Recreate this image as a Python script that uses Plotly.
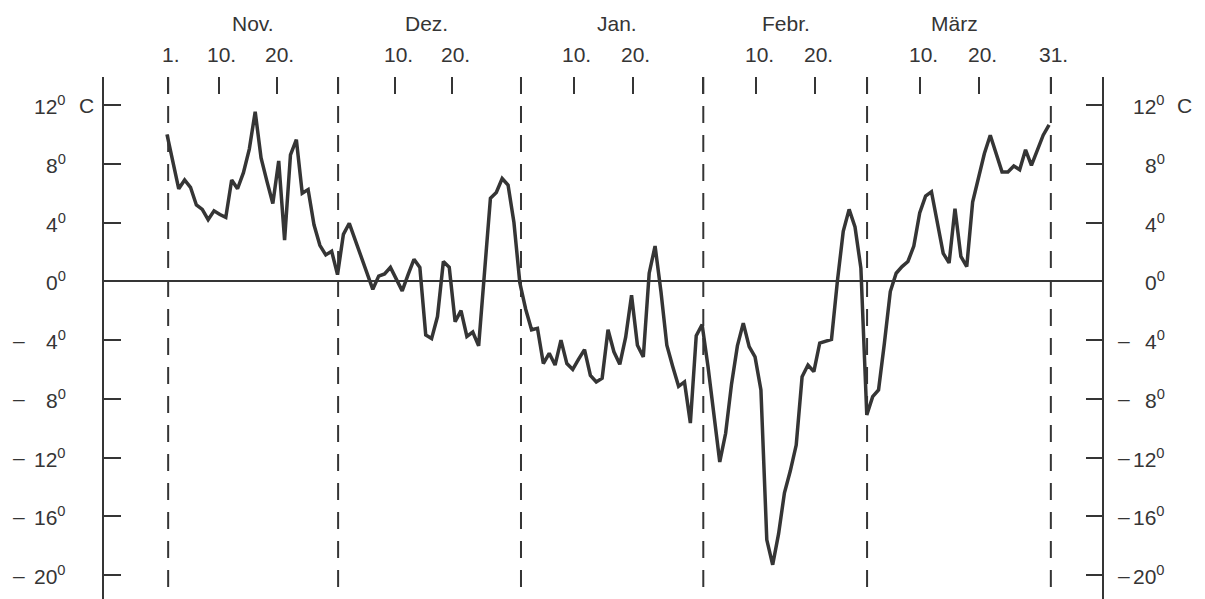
import plotly.graph_objects as go

# Daily mean temperature, 1 Nov .. 31 Mar (151 days), degrees C
temps = [
    # Nov
    10.0, 8.2, 6.3, 6.9, 6.4, 5.2, 4.9, 4.2, 4.8, 4.55,
    4.35, 6.9, 6.3, 7.4, 9.0, 11.55, 8.4, 6.8, 5.3, 8.2,
    2.8, 8.6, 9.65, 6.0, 6.25, 3.85, 2.45, 1.8, 2.05, 0.45,
    # Dec
    3.2, 3.95, 2.85, 1.7, 0.6, -0.55, 0.35, 0.5, 0.95, 0.2,
    -0.65, 0.45, 1.5, 0.95, -3.65, -3.9, -2.4, 1.35, 0.95, -2.75,
    -2.0, -3.75, -3.45, -4.4, 0.6, 5.65, 6.05, 7.0, 6.55, 4.0,
    -0.1,
    # Jan
    -1.9, -3.3, -3.2, -5.6, -4.9, -5.7, -4.0, -5.6, -6.0, -5.3,
    -4.65, -6.4, -6.85, -6.6, -3.3, -4.8, -5.65, -3.8, -0.95, -4.35,
    -5.15, 0.55, 2.4, -0.7, -4.35, -5.8, -7.15, -6.85, -9.65, -3.7,
    -2.95,
    # Feb
    -5.8, -8.9, -12.3, -10.35, -7.0, -4.4, -2.85, -4.45, -5.15, -7.4,
    -17.6, -19.3, -17.2, -14.4, -12.9, -11.15, -6.5, -5.7, -6.15, -4.2,
    -4.1, -3.95, 0.0, 3.4, 4.9, 3.7, 0.9, -9.1,
    # Mar
    -7.85, -7.4, -4.2, -0.7, 0.55, 1.0, 1.35, 2.4, 4.65, 5.8,
    6.1, 3.85, 1.9, 1.25, 4.95, 1.7, 1.0, 5.4, 7.0, 8.7,
    9.95, 8.7, 7.45, 7.45, 7.85, 7.6, 8.95, 7.9, 8.9, 9.95,
    10.65,
]
days = list(range(len(temps)))

# top axis: month names and day ticks (positions in days since 1 Nov, as drawn)
month_names = ["Nov.", "Dez.", "Jan.", "Febr.", "März"]
month_name_pos = [14.7, 44.1, 76.5, 105.3, 134.0]
month_line_pos = [0.2, 29.1, 60.2, 91.2, 119.05, 150.3]
day_tick_pos = [0.2, 8.84, 18.7, 29.1, 38.8, 48.5, 60.2, 69.2, 79.2,
                91.2, 100.2, 110.2, 119.05, 128.1, 138.1, 150.3]
day_tick_text = ["1.", "10.", "20.", "", "10.", "20.", "", "10.", "20.",
                 "", "10.", "20.", "", "10.", "20.", "31."]

# temperature axis
temp_ticks = [12, 8, 4, 0, -4, -8, -12, -16, -20]

INK = "#353535"
FONT = "Liberation Sans, Arial, Helvetica, sans-serif"
FS = 21

fig = go.Figure()
fig.add_trace(go.Scatter(
    x=days, y=temps, mode="lines",
    line=dict(color=INK, width=3.5, shape="linear"),
    hoverinfo="skip", showlegend=False,
))
# invisible trace so the right-hand temperature axis is drawn
fig.add_trace(go.Scatter(
    x=days, y=temps, mode="lines", yaxis="y2",
    line=dict(color="rgba(0,0,0,0)", width=0),
    hoverinfo="skip", showlegend=False,
))

yr = [-21.63, 13.91]
fig.update_layout(
    width=1197, height=591,
    margin=dict(l=96, r=103, t=69, b=0, pad=0),
    paper_bgcolor="white", plot_bgcolor="white",
    font=dict(family=FONT, size=FS, color=INK),
    xaxis=dict(
        range=[-10.71, 159.0], side="top",
        showgrid=False, zeroline=False, showline=False,
        tickmode="array", tickvals=day_tick_pos,
        ticks="inside", ticklen=17, tickwidth=2, tickcolor=INK,
        showticklabels=False,
    ),
    yaxis=dict(
        range=yr, showgrid=False,
        zeroline=True, zerolinecolor=INK, zerolinewidth=1.6,
        showline=True, linecolor=INK, linewidth=2,
        tickmode="array", tickvals=temp_ticks,
        ticks="inside", ticklen=17, tickwidth=2, tickcolor=INK,
        showticklabels=False,
    ),
    yaxis2=dict(
        range=yr, overlaying="y", side="right", showgrid=False,
        zeroline=False,
        showline=True, linecolor=INK, linewidth=2,
        tickmode="array", tickvals=temp_ticks,
        ticks="inside", ticklen=16, tickwidth=2, tickcolor=INK,
        showticklabels=False,
    ),
)

# dashed month boundary lines
for xp in month_line_pos:
    fig.add_shape(type="line", xref="x", yref="paper",
                  x0=xp, x1=xp, y0=1, y1=0,
                  line=dict(color=INK, width=2, dash="17px,12px"))

ann = []
# month names
for name, xp in zip(month_names, month_name_pos):
    ann.append(dict(x=xp, xref="x", y=1, yref="paper", yshift=54,
                    text=name, showarrow=False, xanchor="center", yanchor="middle"))
# day labels
for txt, xp in zip(day_tick_text, day_tick_pos):
    if txt:
        ann.append(dict(x=xp, xref="x", y=1, yref="paper", yshift=23, xshift=3,
                        text=txt, showarrow=False, xanchor="center", yanchor="middle"))

# temperature labels on both sides
for v in temp_ticks:
    num = f"{abs(v)}<sup>0</sup>"
    for side_x, num_shift, c_shift, minus_shift in ((0, -36, -27, -85), (1, 65, 73, 22)):
        ann.append(dict(x=side_x, xref="paper", y=v, yref="y", xshift=num_shift,
                        text=num, showarrow=False, xanchor="right", yanchor="middle"))
        if v == max(temp_ticks):
            ann.append(dict(x=side_x, xref="paper", y=v, yref="y", xshift=c_shift,
                            text="C", showarrow=False, xanchor="left", yanchor="middle"))
        if v < 0:
            ann.append(dict(x=side_x, xref="paper", y=v, yref="y", xshift=minus_shift,
                            text="–", showarrow=False, xanchor="center", yanchor="middle"))
fig.update_layout(annotations=ann)

fig.write_html("out.html")
